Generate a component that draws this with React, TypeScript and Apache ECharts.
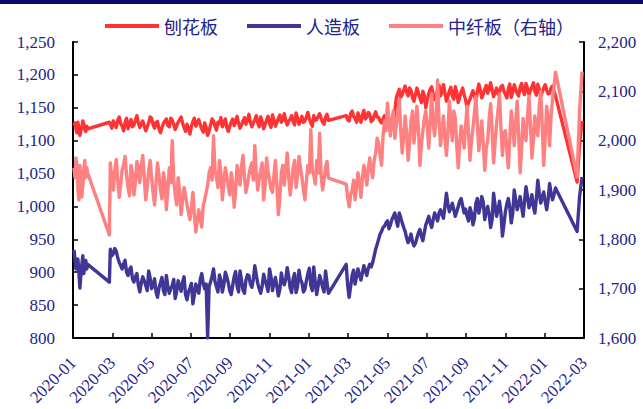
import React, { useEffect, useRef } from "react";
import * as echarts from "echarts";

// x positions: month index from 2020-01 (0); segments of observations
const segStarts = [0.05, 1.85, 1.9, 13.9, 25.65];
const segSteps = [0.05, 0.05, 0.075, 0.075, 0.125];

const seriesNames = ["刨花板", "人造板", "中纤板（右轴）"];
const leftTicks = [800, 1250, 50];
const rightTicks = [1600, 2200, 100];

// 刨花板 (left axis)
const particleBoard: number[][] = [
  [1123, 1127, 1118, 1112, 1128, 1120, 1108, 1116, 1120, 1130, 1125, 1117, 1114, 1122, 1118],
  [1128],
  [
    1125, 1119, 1130, 1124, 1120, 1131, 1136, 1126, 1122, 1115, 1128, 1134, 1118, 1126, 1132, 1121, 1124, 1131, 1138, 1127,
    1120, 1126, 1130, 1122, 1115, 1121, 1127, 1136, 1134, 1124, 1119, 1128, 1129, 1118, 1112, 1120, 1126, 1130, 1133, 1123,
    1121, 1134, 1131, 1125, 1117, 1123, 1128, 1132, 1136, 1127, 1120, 1114, 1125, 1119, 1110, 1122, 1129, 1134, 1122, 1128,
    1132, 1124, 1118, 1113, 1127, 1120, 1108, 1115, 1124, 1133, 1130, 1122, 1116, 1128, 1126, 1135, 1121, 1127, 1133, 1120,
    1114, 1122, 1128, 1133, 1123, 1129, 1137, 1126, 1119, 1124, 1130, 1135, 1125, 1131, 1140, 1128, 1121, 1127, 1132, 1138,
    1127, 1121, 1136, 1129, 1118, 1125, 1131, 1137, 1126, 1120, 1139, 1131, 1122, 1128, 1134, 1139, 1128, 1133, 1141, 1130,
    1124, 1130, 1133, 1138, 1129, 1124, 1142, 1134, 1125, 1131, 1137, 1128, 1130, 1136, 1143, 1133, 1127, 1122, 1138, 1131,
    1132, 1137, 1141, 1134, 1128, 1125, 1136, 1140, 1131,
  ],
  [
    1138, 1132, 1130, 1141, 1145, 1137, 1134, 1128, 1142, 1135, 1128, 1139, 1146, 1133, 1136, 1143, 1140, 1129, 1131, 1138,
    1144, 1136, 1135, 1130, 1127, 1133, 1138, 1129, 1125, 1131, 1132, 1124, 1128, 1145, 1165, 1172, 1178, 1166, 1170, 1177,
    1183, 1174, 1168, 1180, 1176, 1165, 1160, 1170, 1180, 1172, 1165, 1158, 1175, 1168, 1150, 1162, 1172, 1178, 1182, 1170,
    1162, 1169, 1178, 1184, 1168, 1175, 1185, 1172, 1160, 1167, 1176, 1181, 1168, 1163, 1182, 1174, 1158, 1166, 1174, 1180,
    1170, 1162, 1150, 1158, 1163, 1170, 1176, 1168, 1160, 1175, 1186, 1177, 1165, 1171, 1178, 1184, 1172, 1180, 1188, 1176,
    1167, 1173, 1180, 1171, 1174, 1182, 1184, 1175, 1170, 1165, 1179, 1186, 1166, 1174, 1185, 1178, 1172, 1168, 1181, 1187,
    1176, 1170, 1187, 1179, 1170, 1176, 1182, 1188, 1175, 1169, 1186, 1178, 1168, 1174, 1180, 1185, 1177, 1171, 1172, 1180,
    1183, 1175, 1168,
  ],
  [1037, 1095, 1130],
];

// 人造板 (left axis)
const woodPanel: number[][] = [
  [934, 920, 905, 915, 920, 900, 876, 895, 912, 925, 898, 908, 918, 905, 912],
  [885],
  [
    935, 925, 928, 936, 932, 922, 915, 910, 905, 913, 918, 900, 895, 904, 908, 890, 885, 893, 898, 880,
    870, 884, 893, 887, 880, 872, 902, 891, 875, 881, 890, 870, 862, 876, 884, 892, 872, 866, 895, 878,
    868, 875, 880, 889, 860, 871, 887, 879, 871, 885, 893, 866, 858, 870, 876, 883, 852, 865, 882, 874,
    868, 889, 898, 883, 875, 882, 800, 878, 885, 894, 905, 886, 878, 870, 896, 888, 870, 881, 900, 893,
    884, 872, 866, 880, 893, 901, 879, 870, 902, 888, 873, 868, 888, 896, 895, 882, 877, 889, 910, 896,
    883, 875, 868, 879, 897, 888, 880, 871, 905, 893, 872, 884, 892, 878, 864, 874, 899, 886, 881, 890,
    907, 893, 876, 869, 890, 898, 869, 878, 903, 889, 884, 870, 874, 887, 898, 906, 880, 872, 908, 885,
    866, 880, 895, 887, 877, 870, 902, 884, 868,
  ],
  [
    912, 880, 862, 878, 895, 903, 882, 893, 905, 896, 888, 899, 910, 902, 895, 906, 912, 908, 915, 925,
    935, 942, 950, 958, 962, 968, 970, 975, 978, 966, 972, 980, 985, 990, 978, 970, 990, 983, 975, 968,
    962, 952, 945, 950, 958, 946, 940, 944, 952, 960, 965, 955, 948, 960, 972, 978, 985, 975, 968, 980,
    990, 984, 978, 990, 995, 988, 982, 1000, 1020, 1004, 992, 998, 1005, 995, 985, 992, 1000, 1008, 1012, 1001,
    990, 996, 985, 978, 998, 990, 972, 982, 1005, 1012, 990, 1000, 1015, 1006, 980, 992, 1000, 988, 968, 980,
    1020, 1002, 985, 995, 1008, 990, 955, 972, 992, 1004, 1012, 998, 975, 990, 1025, 1010, 995, 1003, 1015, 1000,
    985, 1008, 1030, 1015, 998, 1006, 1018, 1000, 990, 1012, 1040, 1020, 1005, 1014, 1022, 1008, 995, 1010, 1035, 1020,
    1010, 1018, 1028,
  ],
  [962, 1015, 1045],
];

// 中纤板 (right axis)
const mdf: number[][] = [
  [1945, 1925, 1965, 1950, 1900, 1880, 1950, 1930, 1886, 1910, 1940, 1960, 1925, 1945, 1934],
  [1809],
  [
    1955, 1925, 1900, 1938, 1962, 1920, 1885, 1910, 1940, 1952, 1968, 1930, 1905, 1888, 1950, 1935, 1890, 1915, 1958, 1942,
    1915, 1950, 1970, 1925, 1880, 1905, 1940, 1960, 1925, 1895, 1870, 1915, 1955, 1930, 1900, 1882, 1935, 1918, 1860, 1900,
    1945, 1915, 2000, 1920, 1890, 1870, 1925, 1898, 1850, 1880, 1905, 1888, 1870, 1855, 1840, 1862, 1895, 1850, 1815, 1838,
    1860, 1842, 1825, 1868, 1880, 1895, 1910, 1935, 1945, 1920, 2010, 1940, 1925, 1905, 1960, 1935, 1880, 1915, 1945, 1928,
    1905, 1890, 1935, 1915, 1865, 1898, 1950, 1930, 1910, 1948, 1970, 1925, 1895, 1912, 1930, 1945, 1955, 1920, 1990, 1935,
    1900, 1922, 1940, 1955, 1880, 1912, 1965, 1938, 1920, 1902, 1895, 1930, 1960, 1908, 1850, 1885, 1935, 1950, 1910, 1940,
    1975, 1928, 1890, 1915, 1945, 1960, 1905, 1930, 1968, 1945, 1925, 1900, 1880, 1918, 1950, 1935, 2022, 1940, 1930, 1912,
    1960, 1935, 2015, 1928, 1900, 1920, 1945, 1958, 1924,
  ],
  [
    1912, 1885, 1866, 1890, 1900, 1920, 1880, 1905, 1935, 1915, 1885, 1925, 1950, 1932, 1910, 1945, 1965, 1940, 1925, 1960,
    1975, 2005, 1995, 1970, 1950, 2010, 2040, 2020, 2076, 2035, 2010, 2045, 2060, 2005, 2030, 2055, 2085, 2020, 1975, 2010,
    2050, 2015, 1960, 1995, 2040, 2060, 1995, 2030, 2070, 2025, 1950, 1990, 2020, 2045, 2060, 2030, 1985, 2040, 2095, 2035,
    2010, 2050, 2123, 2040, 1990, 2020, 2050, 2005, 1970, 2015, 2080, 2035, 2000, 2060, 2045, 1990, 1945, 1995, 2030, 2010,
    1985, 2030, 2070, 2015, 1960, 2000, 2025, 2055, 2090, 2030, 1980, 2010, 2040, 1995, 1940, 1985, 2000, 2045, 2075, 2020,
    1955, 1995, 2035, 2060, 2095, 2025, 1970, 2015, 2020, 1980, 1945, 2005, 2060, 2030, 1990, 2040, 2080, 2010, 1935, 1985,
    2045, 2015, 2000, 2050, 2090, 2035, 1965, 2000, 2050, 2025, 2010, 2070, 2100, 2030, 1950, 2005, 2070, 2040, 1990, 2050,
    2085, 2110, 2139,
  ],
  [1926, 2060, 2140],
];

const colors = ["#FF3333", "#3F3696", "#FF8080"];
const navy = "#23238A";

function toPairs(segs: number[][]): [number, number][] {
  const out: [number, number][] = [];
  segs.forEach((vals, s) => {
    vals.forEach((v, i) => {
      out.push([+(segStarts[s] + segSteps[s] * i).toFixed(3), v]);
    });
  });
  return out;
}

function monthLabel(m: number): string {
  const y = 2020 + Math.floor(m / 12);
  const mo = (m % 12) + 1;
  return `${y}-${mo < 10 ? "0" + mo : mo}`;
}

export default function App() {
  const ref = useRef<HTMLDivElement>(null);
  useEffect(() => {
    if (!ref.current) return;
    const chart = echarts.init(ref.current, undefined, { renderer: "svg" });
    const axisFont = { fontFamily: "Liberation Serif", fontSize: 17, color: navy };
    const axisLine = { show: true, lineStyle: { color: "#000", width: 2 } };
    const axisTick = { show: true, inside: true, length: 5, lineStyle: { color: "#000", width: 1.5 } };
    chart.setOption({
      animation: false,
      backgroundColor: "#fff",
      graphic: [
        { type: "rect", shape: { x: 0, y: 0, width: 643, height: 4 }, style: { fill: "#0B0B6E" } },
      ],
      legend: {
        top: 12,
        left: 100,
        icon: "rect",
        itemWidth: 54,
        itemHeight: 4,
        itemGap: 29,
        textStyle: { fontFamily: "Noto Sans CJK SC", fontSize: 18, color: navy },
        data: seriesNames,
      },
      grid: { left: 73, right: 59, top: 42, bottom: 71 },
      xAxis: {
        type: "value",
        min: 0,
        max: 26,
        interval: 2,
        axisLine,
        axisTick,
        splitLine: { show: false },
        axisLabel: {
          ...axisFont,
          rotate: 45,
          margin: 22,
          formatter: (v: number) => monthLabel(v),
        },
      },
      yAxis: [
        {
          type: "value",
          min: leftTicks[0],
          max: leftTicks[1],
          interval: leftTicks[2],
          axisLine,
          axisTick,
          splitLine: { show: false },
          axisLabel: { ...axisFont, margin: 18, formatter: (v: number) => v.toLocaleString("en-US") },
        },
        {
          type: "value",
          min: rightTicks[0],
          max: rightTicks[1],
          interval: rightTicks[2],
          position: "right",
          axisLine,
          axisTick,
          splitLine: { show: false },
          axisLabel: { ...axisFont, margin: 14, formatter: (v: number) => v.toLocaleString("en-US") },
        },
      ],
      series: [
        { name: seriesNames[0], type: "line", data: toPairs(particleBoard), yAxisIndex: 0 },
        { name: seriesNames[1], type: "line", data: toPairs(woodPanel), yAxisIndex: 0 },
        { name: seriesNames[2], type: "line", data: toPairs(mdf), yAxisIndex: 1 },
      ].map((s, i) => ({
        ...s,
        showSymbol: false,
        symbol: "none",
        color: colors[i],
        lineStyle: { color: colors[i], width: 3.4, join: "round" },
      })),
    });
    return () => chart.dispose();
  }, []);
  return (
    <div
      ref={ref}
      style={{ position: "fixed", left: 0, top: 0, width: 643, height: 409, background: "#fff" }}
    />
  );
}
